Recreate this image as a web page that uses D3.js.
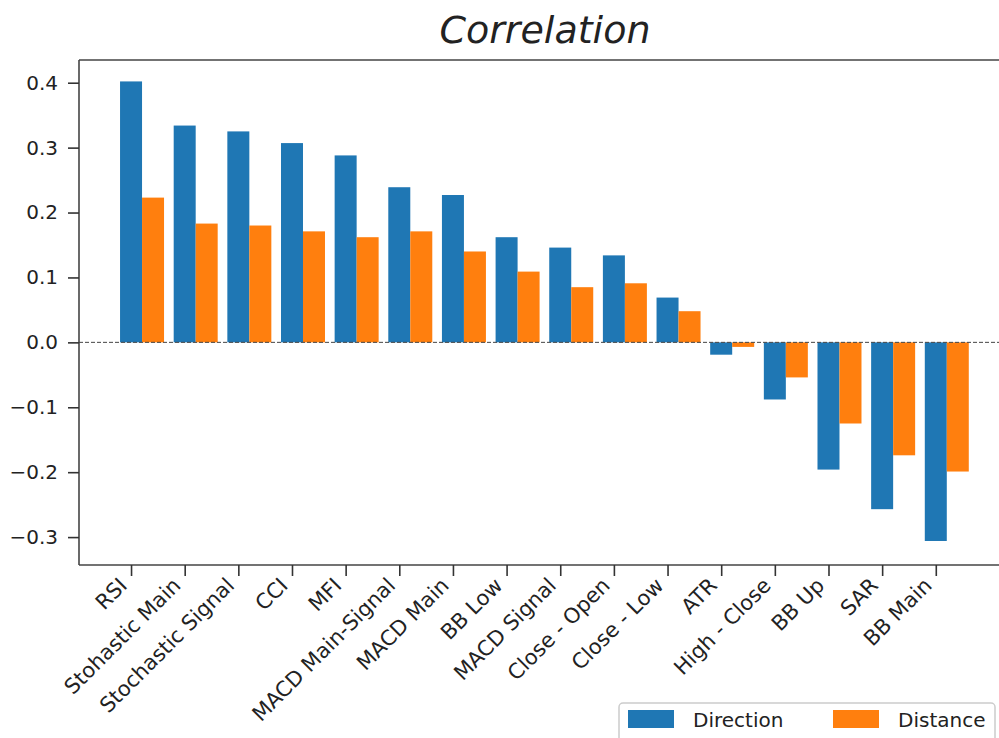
<!DOCTYPE html>
<html>
<head>
<meta charset="utf-8">
<script src="https://cdn.jsdelivr.net/npm/d3@7"></script>
<style>
  html, body { margin: 0; padding: 0; background: #fff; }
  svg { display: block; font-family: "DejaVu Sans", sans-serif; }
</style>
</head>
<body>
<svg id="chart" width="999" height="738"></svg>
<script>
// Indicator names, in plotted order
const categories = ["RSI", "Stohastic Main", "Stochastic Signal", "CCI", "MFI",
  "MACD Main-Signal", "MACD Main", "BB Low", "MACD Signal", "Close - Open",
  "Close - Low", "ATR", "High - Close", "BB Up", "SAR", "BB Main"];

// Correlation with price direction
const direction = [0.402, 0.334, 0.325, 0.307, 0.288, 0.239, 0.227, 0.162,
  0.146, 0.134, 0.069, -0.019, -0.088, -0.196, -0.257, -0.306];

// Correlation with price distance
const distance = [0.223, 0.183, 0.180, 0.171, 0.162, 0.171, 0.140, 0.109,
  0.085, 0.091, 0.048, -0.007, -0.054, -0.125, -0.174, -0.199];

const yTicks = [-0.3, -0.2, -0.1, 0.0, 0.1, 0.2, 0.3, 0.4];
const seriesNames = ["Direction", "Distance"];
const colors = ["#1f77b4", "#ff7f0e"];

const svg = d3.select("#chart");

// Plot area (right edge of the axes runs past the canvas)
const plotLeft = 79, plotTop = 60, plotBottom = 565;
const step = 53.65;
const xMin = -0.97, xMax = 16.4;
const x = d3.scaleLinear().domain([xMin, xMax])
  .range([plotLeft, plotLeft + (xMax - xMin) * step]);
const y = d3.scaleLinear().domain([-0.343, 0.435]).range([plotBottom, plotTop]);
const barW = 0.41;

const g = svg.append("g");

// Bars: Direction centered on the tick, Distance just to its right
const series = [direction, distance];
series.forEach((vals, s) => {
  g.append("g").selectAll("rect")
    .data(vals)
    .join("rect")
    .attr("x", (d, i) => x(i - barW / 2 + s * barW))
    .attr("width", x(barW) - x(0))
    .attr("y", d => y(Math.max(0, d)))
    .attr("height", d => Math.abs(y(d) - y(0)))
    .attr("fill", colors[s]);
});

// Dashed zero line
g.append("line")
  .attr("x1", x(xMin)).attr("x2", x(xMax))
  .attr("y1", y(0)).attr("y2", y(0))
  .attr("stroke", "#444").attr("stroke-width", 1)
  .attr("stroke-dasharray", "4,2");

// Spines
const spineColor = "#444", spineWidth = 1.6;
g.append("line").attr("x1", plotLeft).attr("x2", plotLeft).attr("y1", plotTop).attr("y2", plotBottom)
  .attr("stroke", spineColor).attr("stroke-width", spineWidth);
g.append("line").attr("x1", plotLeft).attr("x2", x(xMax)).attr("y1", plotTop).attr("y2", plotTop)
  .attr("stroke", spineColor).attr("stroke-width", spineWidth);
g.append("line").attr("x1", plotLeft).attr("x2", x(xMax)).attr("y1", plotBottom).attr("y2", plotBottom)
  .attr("stroke", spineColor).attr("stroke-width", spineWidth);

// Y axis
const yAxis = d3.axisLeft(y).tickValues(yTicks).tickFormat(d3.format(".1f"))
  .tickSize(11).tickPadding(10);
const ya = svg.append("g").attr("transform", `translate(${plotLeft},0)`).call(yAxis);
ya.select(".domain").remove();
ya.selectAll(".tick line").attr("stroke", "#333").attr("stroke-width", 1.6);
ya.selectAll(".tick text").attr("font-size", 20).attr("fill", "#222")
  .attr("font-family", "DejaVu Sans, sans-serif");

// X axis with rotated labels
const xAxis = d3.axisBottom(x).tickValues(d3.range(categories.length))
  .tickFormat(i => categories[i]).tickSize(11).tickPadding(0);
const xa = svg.append("g").attr("transform", `translate(0,${plotBottom})`).call(xAxis);
xa.select(".domain").remove();
xa.selectAll(".tick line").attr("stroke", "#333").attr("stroke-width", 1.6);
xa.selectAll(".tick text")
  .attr("font-size", 21).attr("fill", "#222")
  .attr("font-family", "DejaVu Sans, sans-serif")
  .attr("text-anchor", "end")
  .attr("dy", null)
  .attr("y", 0)
  .attr("dominant-baseline", "hanging")
  .attr("transform", "translate(-14,11) rotate(-45)");

// Title
svg.append("text")
  .attr("x", (plotLeft + x(xMax)) / 2).attr("y", 43)
  .attr("text-anchor", "middle")
  .attr("font-size", 38).attr("font-style", "italic")
  .attr("fill", "#222")
  .text("Correlation");

// Legend
const lg = svg.append("g").attr("transform", "translate(619,703)");
lg.append("rect").attr("x", 0).attr("y", 0).attr("width", 376).attr("height", 50)
  .attr("rx", 4).attr("fill", "#fff").attr("stroke", "#ccc").attr("stroke-width", 1.5);
const items = lg.selectAll(".item").data(seriesNames).join("g")
  .attr("transform", (d, i) => `translate(${9 + i * 205},0)`);
items.append("rect").attr("x", 0).attr("y", 7).attr("width", 46).attr("height", 18)
  .attr("fill", (d, i) => colors[i]);
items.append("text").attr("x", 65).attr("y", 24)
  .attr("font-size", 20).attr("fill", "#222")
  .text(d => d);
</script>
</body>
</html>
